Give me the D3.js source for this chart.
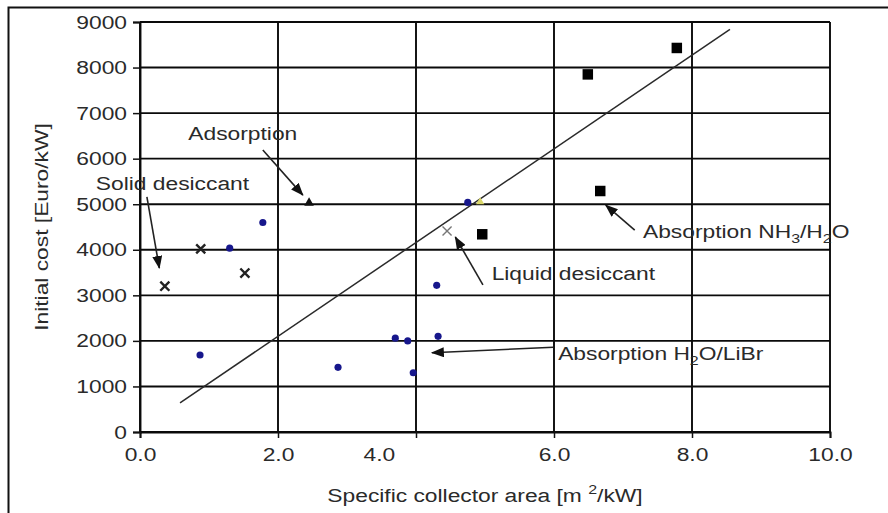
<!DOCTYPE html>
<html>
<head>
<meta charset="utf-8">
<script src="https://cdn.jsdelivr.net/npm/d3@7"></script>
<style>
  html, body { margin: 0; padding: 0; background: #fff; }
  svg { display: block; }
  text { font-family: "Liberation Sans", Arial, sans-serif; fill: #2a2a2a; }
</style>
</head>
<body>
<svg id="chart" width="888" height="513"></svg>
<script>
// Specific collector area [m²/kW] vs. initial cost [Euro/kW]
const xTicks = [0, 2, 4, 6, 8, 10];
const xTickLabels = ["0.0", "2.0", "4.0", "6.0", "8.0", "10.0"];
const yTicks = [0, 1000, 2000, 3000, 4000, 5000, 6000, 7000, 8000, 9000];

// Absorption H2O/LiBr (blue dots)
const absorptionLiBr = [
  { x: 0.87, y: 1690 }, { x: 1.30, y: 4035 }, { x: 1.78, y: 4600 },
  { x: 2.87, y: 1420 }, { x: 3.70, y: 2060 }, { x: 3.88, y: 2000 },
  { x: 3.96, y: 1300 }, { x: 4.30, y: 3220 }, { x: 4.32, y: 2100 },
  { x: 4.75, y: 5040 }
];
// Absorption NH3/H2O (black squares)
const absorptionNH3 = [
  { x: 4.96, y: 4340 }, { x: 6.49, y: 7850 }, { x: 6.67, y: 5290 }, { x: 7.78, y: 8430 }
];
// Solid desiccant (crosses)
const solidDesiccant = [
  { x: 0.36, y: 3200 }, { x: 0.88, y: 4020 }, { x: 1.52, y: 3490 }
];
// Liquid desiccant
const liquidDesiccant = [{ x: 4.45, y: 4410 }];
// Adsorption
const adsorption = [{ x: 2.45, y: 5030 }];
const adsorptionOther = [{ x: 4.93, y: 5050 }];

// Trend line end points
const trendLine = [{ x: 0.58, y: 640 }, { x: 8.55, y: 8840 }];

// Callouts: label position and arrow from (x1,y1) to (x2,y2), in data units
const callouts = [
  { parts: [["Adsorption", ""]], x: 1.49, y: 6410, anchor: "middle", x1: 1.78, y1: 6190, x2: 2.36, y2: 5200 },
  { parts: [["Solid desiccant", ""]], x: 0.47, y: 5310, anchor: "middle", x1: 0.10, y1: 5160, x2: 0.28, y2: 3600 },
  { parts: [["Liquid desiccant", ""]], x: 6.28, y: 3340, anchor: "middle", x1: 4.97, y1: 3230, x2: 4.57, y2: 4280 },
  { parts: [["Absorption NH", ""], ["3", "sub"], ["/H", ""], ["2", "sub"], ["O", ""]], x: 7.29, y: 4250, anchor: "start", x1: 7.17, y1: 4430, x2: 6.75, y2: 4980 },
  { parts: [["Absorption H", ""], ["2", "sub"], ["O/LiBr", ""]], x: 6.06, y: 1590, anchor: "start", x1: 5.99, y1: 1860, x2: 4.23, y2: 1740 }
];

const SX = 1.2;        // horizontal glyph stretch of the lettering
const FS = 19;         // font size

const svg = d3.select("#chart");

// Outer frame
svg.append("rect")
  .attr("x", 8.5).attr("y", 7.5)
  .attr("width", 920).attr("height", 540)
  .attr("fill", "none").attr("stroke", "#111").attr("stroke-width", 2);

const x = d3.scaleLinear().domain([0, 10]).range([140, 830]);
const y = d3.scaleLinear().domain([0, 9000]).range([432, 22]);

const defs = svg.append("defs");
defs.append("marker")
  .attr("id", "arrow")
  .attr("markerUnits", "userSpaceOnUse")
  .attr("markerWidth", 13).attr("markerHeight", 10)
  .attr("refX", 12).attr("refY", 5)
  .attr("orient", "auto")
  .append("path").attr("d", "M0,0 L13,5 L0,10 Z").attr("fill", "#111");

// Grid lines
const grid = svg.append("g");
grid.selectAll("line.h").data(yTicks).join("line")
  .attr("x1", x(0)).attr("x2", x(10))
  .attr("y1", d => y(d)).attr("y2", d => y(d))
  .attr("stroke", "#0a0a0a").attr("stroke-width", 1.9);
grid.selectAll("line.v").data(xTicks).join("line")
  .attr("y1", y(0)).attr("y2", y(9000))
  .attr("x1", d => x(d)).attr("x2", d => x(d))
  .attr("stroke", "#0a0a0a").attr("stroke-width", 1.9);

// Axes
const yAxis = svg.append("g")
  .attr("transform", `translate(${x(0)},0)`)
  .call(d3.axisLeft(y).tickValues(yTicks).tickSize(7).tickPadding(6).tickFormat(d3.format("d")));
const xAxis = svg.append("g")
  .attr("transform", `translate(0,${y(0)})`)
  .call(d3.axisBottom(x).tickValues(xTicks).tickSize(6).tickPadding(10).tickFormat((d, i) => xTickLabels[i]));

[yAxis, xAxis].forEach(g => {
  g.select(".domain").attr("stroke", "#0a0a0a").attr("stroke-width", 1.9);
  g.selectAll(".tick line").attr("stroke", "#111").attr("stroke-width", 1.5);
  g.selectAll(".tick text")
    .attr("fill", "#2a2a2a")
    .style("font-size", FS + "px")
    .style("font-family", "Liberation Sans, Arial, sans-serif")
    .each(function () {
      const t = d3.select(this);
      const xv = +t.attr("x") || 0;
      t.attr("x", xv / SX).attr("transform", `scale(${SX},1)`);
    });
});
// the "4.0" label sits left of its grid line
xAxis.selectAll(".tick").filter(d => d === 4).select("text").attr("dx", -31);

// Trend line
svg.append("path")
  .datum(trendLine)
  .attr("d", d3.line().x(d => x(d.x)).y(d => y(d.y)))
  .attr("fill", "none").attr("stroke", "#2a2a2a").attr("stroke-width", 1.5);

// Points
const pts = svg.append("g");
pts.selectAll("path.libr").data(absorptionLiBr).join("path")
  .attr("transform", d => `translate(${x(d.x)},${y(d.y)})`)
  .attr("d", d3.symbol(d3.symbolCircle, 40))
  .attr("fill", "#17178c");
pts.selectAll("path.nh3").data(absorptionNH3).join("path")
  .attr("transform", d => `translate(${x(d.x)},${y(d.y)})`)
  .attr("d", d3.symbol(d3.symbolSquare, 110))
  .attr("fill", "#000");
pts.selectAll("path.solid").data(solidDesiccant).join("path")
  .attr("transform", d => `translate(${x(d.x)},${y(d.y)})`)
  .attr("d", d3.symbol(d3.symbolX, 55))
  .attr("fill", "none").attr("stroke", "#222").attr("stroke-width", 2.4);
pts.selectAll("path.liquid").data(liquidDesiccant).join("path")
  .attr("transform", d => `translate(${x(d.x)},${y(d.y)})`)
  .attr("d", d3.symbol(d3.symbolX, 55))
  .attr("fill", "none").attr("stroke", "#777").attr("stroke-width", 1.4);
pts.selectAll("path.ads").data(adsorption).join("path")
  .attr("transform", d => `translate(${x(d.x)},${y(d.y)})`)
  .attr("d", d3.symbol(d3.symbolTriangle, 40))
  .attr("fill", "#111");
pts.selectAll("path.ads2").data(adsorptionOther).join("path")
  .attr("transform", d => `translate(${x(d.x)},${y(d.y)})`)
  .attr("d", d3.symbol(d3.symbolTriangle, 30))
  .attr("fill", "#d9d66a");

// Callouts
const co = svg.append("g");
callouts.forEach(c => {
  co.append("line")
    .attr("x1", x(c.x1)).attr("y1", y(c.y1))
    .attr("x2", x(c.x2)).attr("y2", y(c.y2))
    .attr("stroke", "#222").attr("stroke-width", 1.6)
    .attr("marker-end", "url(#arrow)");
  const t = co.append("text")
    .attr("transform", `translate(${x(c.x)},${y(c.y)}) scale(${SX},1)`)
    .attr("text-anchor", c.anchor)
    .style("font-size", FS + "px");
  let shifted = 0;
  c.parts.forEach(([s, kind]) => {
    const sp = t.append("tspan").text(s);
    if (kind === "sub") {
      sp.attr("dy", 5 - shifted).style("font-size", (FS * 0.7) + "px");
      shifted = 5;
    } else {
      sp.attr("dy", -shifted);
      shifted = 0;
    }
  });
});

// Axis titles
const xt = svg.append("text")
  .attr("transform", `translate(${(x(0) + x(10)) / 2},${502}) scale(${SX},1)`)
  .attr("text-anchor", "middle")
  .style("font-size", FS + "px");
xt.append("tspan").text("Specific collector area [m ");
xt.append("tspan").text("2").attr("dy", -8).style("font-size", (FS * 0.7) + "px");
xt.append("tspan").text("/kW]").attr("dy", 8);

svg.append("text")
  .attr("transform", `translate(48,${(y(0) + y(9000)) / 2}) rotate(-90) scale(${SX},1)`)
  .attr("text-anchor", "middle")
  .style("font-size", FS + "px")
  .text("Initial cost [Euro/kW]");
</script>
</body>
</html>
